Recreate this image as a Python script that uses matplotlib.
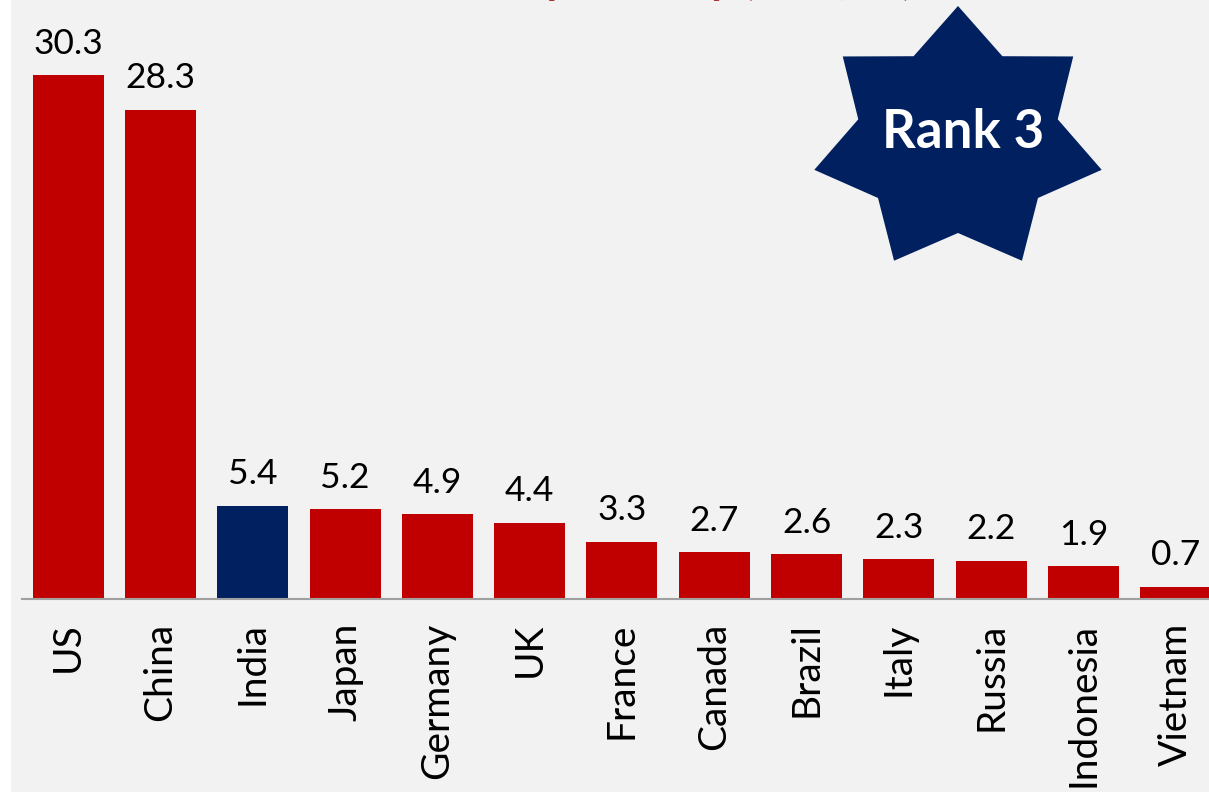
import numpy as np
import matplotlib
matplotlib.use("Agg")
import matplotlib.pyplot as plt
from matplotlib.patches import Polygon, Rectangle

countries = ["US", "China", "India", "Japan", "Germany", "UK", "France",
             "Canada", "Brazil", "Italy", "Russia", "Indonesia", "Vietnam"]
gdp = [30.3, 28.3, 5.4, 5.2, 4.9, 4.4, 3.3, 2.7, 2.6, 2.3, 2.2, 1.9, 0.7]
highlight = "India"
title_text = "Nominal GDP by country (US$, tn)"
badge_text = "Rank 3"

RED = "#C00000"
NAVY = "#002060"
BG = "#F2F2F2"

plt.rcParams['font.family'] = ['Lato', 'DejaVu Sans']

W, H = 1209, 793
fig = plt.figure(figsize=(W / 100, H / 100), dpi=100)
fig.patch.set_facecolor("white")
fig.patches.append(Rectangle((11 / W, 1 / H), 1 - 11 / W, 1 - 1 / H,
                             transform=fig.transFigure, facecolor=BG,
                             edgecolor="none", zorder=-10))

ax = fig.add_axes([22 / W, (H - 599) / H, 1 - 22 / W, 599 / H])
ax.set_facecolor("none")
ax.set_zorder(1)

x = np.arange(len(countries))
colors = [NAVY if c == highlight else RED for c in countries]
bars = ax.bar(x, gdp, width=0.77, color=colors, zorder=2)

for xi, v in zip(x, gdp):
    ax.annotate(f"{v:.1f}", xy=(xi, v), xytext=(0, 15.5),
                textcoords="offset points", ha="center", va="baseline",
                fontsize=25.5, color="black")

ax.set_xlim(-0.5, 12.36)
ax.set_ylim(0, 34.64)
ax.set_xticks(x)
ax.set_xticklabels(countries, rotation=90, fontsize=28)
ax.tick_params(axis="x", length=0, pad=17)
ax.set_yticks([])
for s in ["top", "right", "left"]:
    ax.spines[s].set_visible(False)
ax.spines["bottom"].set_color("#A0A0A0")
ax.spines["bottom"].set_linewidth(1.5)

# title (mostly cropped above the canvas in the reference)
fig.text(575 / W, 1 + 6 / H, title_text, ha="center", va="baseline",
         fontsize=32, fontweight="bold", color="#A93232", zorder=2)

# badge: seven-pointed star
cx, cy, R, r, sx = 958, 140, 134, 93, 1.1
pts = []
for k in range(14):
    ang = np.pi / 2 + k * np.pi / 7
    rad = R if k % 2 == 0 else r
    px = cx + sx * rad * np.cos(ang)
    py = cy - rad * np.sin(ang)
    pts.append((px / W, 1 - py / H))
fig.patches.append(Polygon(pts, closed=True, transform=fig.transFigure,
                           facecolor=NAVY, edgecolor="none", zorder=3))
fig.text(963 / W, 1 - 133 / H, badge_text, ha="center", va="center",
         fontsize=38, fontweight="bold", color="white", zorder=4)

fig.savefig("out.png", dpi=100, facecolor=fig.get_facecolor())
